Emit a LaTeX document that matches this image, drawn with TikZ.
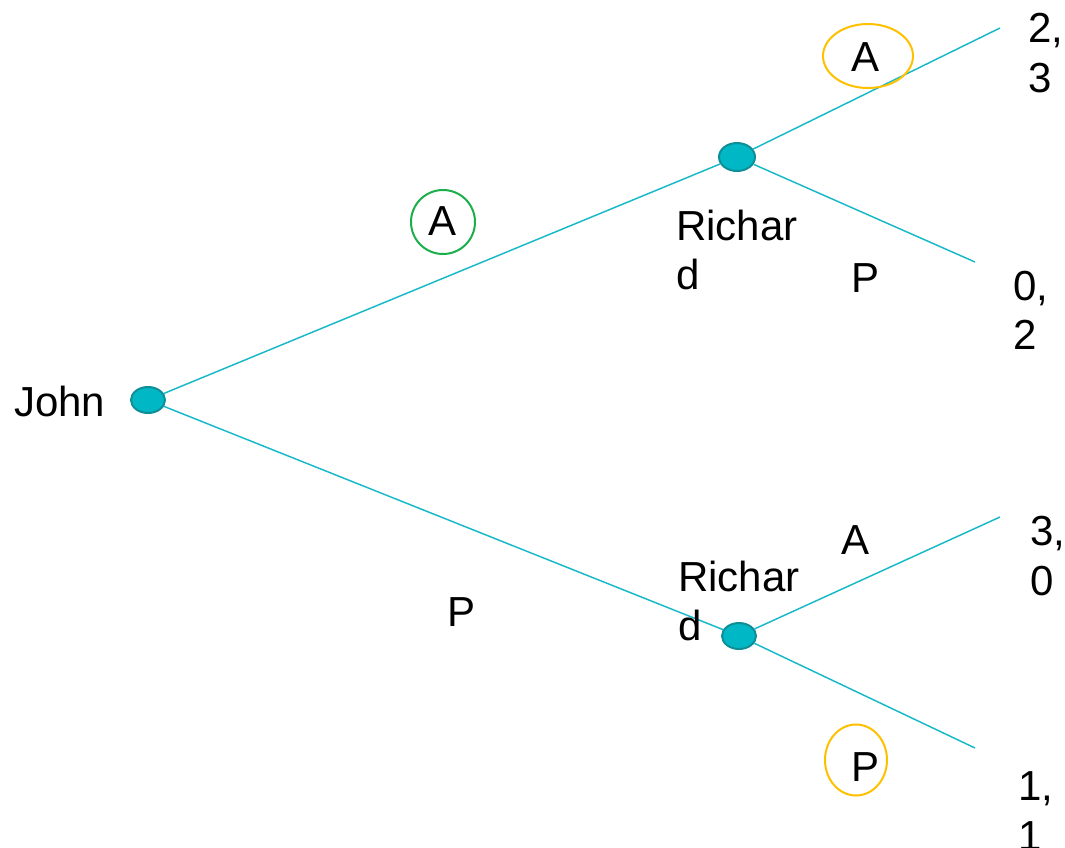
\documentclass[tikz,border=0pt]{standalone}
\usepackage{fontspec}
\setmainfont{Liberation Sans}
\usetikzlibrary{shapes.geometric}
\definecolor{linec}{HTML}{17B8C8}
\definecolor{nodef}{HTML}{00B7C6}
\definecolor{nodeb}{HTML}{0E8F98}
\definecolor{greenc}{HTML}{1BAF4B}
\definecolor{orangec}{HTML}{FFC000}
\tikzset{
  decision/.style={ellipse,draw=nodeb,fill=nodef,line width=1.5pt,minimum width=34*0.75pt,minimum height=26*0.75pt,inner sep=0pt},
  branch/.style={draw=linec,line width=1.1pt},
  lbl/.style={font=\fontsize{31.5}{37}\selectfont,inner sep=0pt},
  lbl2/.style={lbl,align=left,anchor=west},
  ring/.style={ellipse,line width=1.5pt,inner sep=0pt}
}
\begin{document}
\begin{tikzpicture}[x=0.75pt,y=-0.75pt]
\useasboundingbox (0,0) rectangle (1065,847);
% nodes
\node[decision] (john) at (148,400) {};
\node[decision,minimum width=36*0.75pt,minimum height=28*0.75pt] (r1) at (737,157) {};
\node[decision] (r2) at (739,636) {};
\coordinate (t1) at (1000,28);
\coordinate (t2) at (975,262);
\coordinate (t3) at (1000,517);
\coordinate (t4) at (975,748);
% branches
\draw[branch] (john) -- (r1);
\draw[branch] (john) -- (r2);
\draw[branch] (r1) -- (t1);
\draw[branch] (r1) -- (t2);
\draw[branch] (r2) -- (t3);
\draw[branch] (r2) -- (t4);
% rings
\node[ring,draw=greenc,minimum width=64*0.75pt,minimum height=64*0.75pt] (ga) at (443,222) {};
\node[ring,draw=orangec,minimum width=90*0.75pt,minimum height=64*0.75pt] (oa) at (868,56) {};
\node[ring,draw=orangec,minimum width=62*0.75pt,minimum height=71*0.75pt] (op) at (856,760) {};
% labels
\node[lbl,anchor=west] (johnlbl) at (14,401) {John};
\node[lbl] (la1) at (443,221) {A};
\node[lbl] (la2) at (866,57) {A};
\node[lbl] (lp1) at (866,278) {P};
\node[lbl] (la3) at (855,540) {A};
\node[lbl] (lp2) at (462,612) {P};
\node[lbl] (lp3) at (866,767) {P};
\node[lbl2] (rich1) at (676,250) {Richar\\d};
\node[lbl2] (rich2) at (678,601) {Richar\\d};
\node[lbl2] (pay1) at (1028,53) {2,\\3};
\node[lbl2] (pay2) at (1013,310) {0,\\2};
\node[lbl2] (pay3) at (1030,556) {3,\\0};
\node[lbl2] (pay4) at (1018,811) {1,\\1};
\end{tikzpicture}
\end{document}
